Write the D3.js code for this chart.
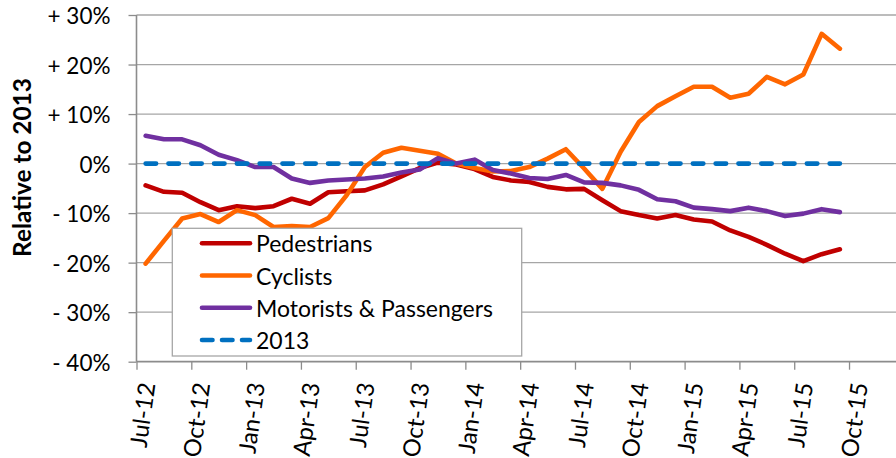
<!DOCTYPE html>
<html><head><meta charset="utf-8">
<script src="https://cdn.jsdelivr.net/npm/d3@7"></script>
<style>
html,body{margin:0;padding:0;background:#fff;}
svg{display:block;font-family:Lato,"Open Sans",sans-serif;}
</style></head>
<body><svg id="chart" width="896" height="458"></svg>
<script>
const months = ["Jul-12","Aug-12","Sep-12","Oct-12","Nov-12","Dec-12","Jan-13","Feb-13","Mar-13","Apr-13","May-13","Jun-13",
"Jul-13","Aug-13","Sep-13","Oct-13","Nov-13","Dec-13","Jan-14","Feb-14","Mar-14","Apr-14","May-14","Jun-14",
"Jul-14","Aug-14","Sep-14","Oct-14","Nov-14","Dec-14","Jan-15","Feb-15","Mar-15","Apr-15","May-15","Jun-15",
"Jul-15","Aug-15","Sep-15"];
const pedestrians = [-4.4,-5.7,-5.9,-7.8,-9.4,-8.6,-9.0,-8.6,-7.1,-8.1,-5.8,-5.6,-5.4,-4.2,-2.6,-0.9,0.2,-0.2,-1.1,-2.7,-3.4,-3.7,-4.7,-5.2,-5.1,-7.4,-9.6,-10.4,-11.1,-10.4,-11.3,-11.7,-13.5,-14.8,-16.4,-18.2,-19.7,-18.3,-17.3];
const cyclists = [-20.2,-15.6,-11.1,-10.2,-11.8,-9.4,-10.4,-12.8,-12.6,-12.8,-11.0,-6.4,-0.7,2.2,3.2,2.6,2.0,0,-0.9,-1.6,-1.5,-0.7,1.0,2.9,-1.0,-5.1,2.4,8.4,11.6,13.6,15.5,15.5,13.3,14.1,17.5,16.0,18.0,26.2,23.2];
const motorists = [5.6,4.9,4.9,3.7,1.8,0.7,-0.7,-0.7,-3.0,-3.9,-3.4,-3.2,-3.0,-2.6,-1.8,-1.2,1.1,0,0.8,-1.3,-2.0,-2.9,-3.1,-2.3,-3.8,-3.9,-4.4,-5.3,-7.2,-7.6,-8.9,-9.2,-9.6,-8.9,-9.6,-10.6,-10.1,-9.2,-9.8];
const baseline2013 = months.map(() => 0);
const seriesNames = ["Pedestrians","Cyclists","Motorists & Passengers","2013"];
const seriesColors = ["#C00000","#FF6600","#7030A0","#0070C0"];
const yTickValues = [30,20,10,0,-10,-20,-30,-40];
const yTickLabels = ["+ 30%","+ 20%","+ 10%","0%","- 10%","- 20%","- 30%","- 40%"];
const xTickLabels = ["Jul-12","Oct-12","Jan-13","Apr-13","Jul-13","Oct-13","Jan-14","Apr-14","Jul-14","Oct-14","Jan-15","Apr-15","Jul-15","Oct-15"];
const yTitle = "Relative to 2013";

const svg = d3.select("#chart");
const plotLeft = 136.5, plotTop = 15, plotBottom = 361.7, rightEdge = 896;
const slot = 18.27;
const x = d3.scaleLinear().domain([0, months.length]).range([plotLeft, plotLeft + months.length*slot]);
const y = d3.scaleLinear().domain([-40, 30]).range([plotBottom, plotTop]);
const baseFont = 20;

// fit a selection's font size so that the sample text has the target width
function fitFont(sel, sampleIndex, target) {
  sel.attr("font-size", baseFont);
  const node = sel.nodes()[sampleIndex];
  const w = node.getComputedTextLength();
  const fs = baseFont * target / w;
  sel.attr("font-size", fs);
  return fs;
}

// gridlines
svg.append("g").selectAll("line").data(yTickValues.filter(v => v !== -40)).join("line")
  .attr("x1", plotLeft).attr("x2", rightEdge).attr("y1", d => y(d)).attr("y2", d => y(d))
  .attr("stroke", "#A6A6A6").attr("stroke-width", 1.3);

// y axis
const yAxis = d3.axisLeft(y).tickValues(yTickValues).tickSize(8).tickPadding(18)
  .tickFormat((d,i) => yTickLabels[i]);
const gy = svg.append("g").attr("transform", `translate(${plotLeft},0)`).call(yAxis);
gy.select(".domain").attr("stroke", "#8C8C8C").attr("stroke-width", 1.6).attr("d", `M0,${y(30)}V${plotBottom}`);
gy.selectAll(".tick line").attr("stroke", "#8C8C8C").attr("stroke-width", 1.3);
const yTexts = gy.selectAll(".tick text").attr("fill", "#000").attr("font-family", "Lato")
  .attr("dy", null).attr("dominant-baseline", "central");
fitFont(yTexts, 0, 63);

// x axis
const xTickIdx = xTickLabels.map((_, i) => i*3);
const xAxis = d3.axisBottom(x).tickValues(xTickIdx).tickSize(8).tickFormat((d,i) => xTickLabels[i]);
const gx = svg.append("g").attr("transform", `translate(0,${plotBottom})`).call(xAxis);
gx.select(".domain").attr("stroke", "#8C8C8C").attr("stroke-width", 1.8).attr("d", `M${plotLeft},0H${rightEdge}`);
gx.selectAll(".tick line").attr("stroke", "#8C8C8C").attr("stroke-width", 1.3);
const xTexts = gx.selectAll(".tick text").attr("fill", "#000").attr("font-family", "Lato")
  .attr("text-anchor", "end").attr("dy", null).attr("y", 0)
  .attr("transform", "translate(9.5,21) rotate(-82)").attr("dominant-baseline", "central");
fitFont(xTexts, 1, 75);

// y title
const title = svg.append("text").attr("transform", `translate(21,167.5) rotate(-90)`)
  .attr("text-anchor", "middle").attr("dominant-baseline", "central")
  .attr("font-weight", "bold").attr("font-family", "Lato").text(yTitle);
fitFont(title, 0, 179);

// lines
const line = d3.line().x((d,i) => x(i + 0.5)).y(d => y(d));
const allSeries = [pedestrians, cyclists, motorists, baseline2013];
allSeries.forEach((s, k) => {
  const p = svg.append("path").datum(s).attr("d", line).attr("fill", "none")
    .attr("stroke", seriesColors[k]).attr("stroke-width", 4.6)
    .attr("stroke-linejoin", "round").attr("stroke-linecap", "round");
  if (k === 3) p.attr("stroke-dasharray", "10.5,12.3");
});

// legend
const lg = svg.append("g");
lg.append("rect").attr("x", 172.3).attr("y", 228.3).attr("width", 349.4).attr("height", 127.7)
  .attr("fill", "#fff").attr("stroke", "#A6A6A6").attr("stroke-width", 1.3);
const rowY = d3.scaleLinear().domain([0, 3]).range([243.3, 340]);
seriesNames.forEach((n, k) => {
  const l = lg.append("line").attr("x1", 202).attr("x2", 250).attr("y1", rowY(k)).attr("y2", rowY(k))
    .attr("stroke", seriesColors[k]).attr("stroke-width", 4.6).attr("stroke-linecap", "round");
  if (k === 3) l.attr("stroke-dasharray", "10.5,9.5");
  lg.append("text").attr("class", "lgtext").attr("x", 256).attr("y", rowY(k)).attr("dominant-baseline", "central")
    .attr("font-family", "Lato").attr("fill", "#000").text(n);
});
fitFont(lg.selectAll(".lgtext"), 2, 237);
</script></body></html>
